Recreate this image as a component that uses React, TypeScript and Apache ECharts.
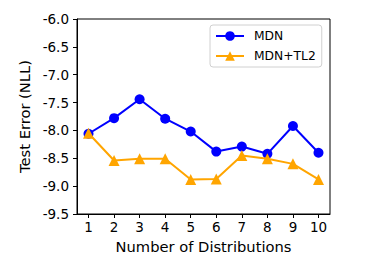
import React, { useEffect, useRef } from "react";
import * as echarts from "echarts";

const xValues = [1, 2, 3, 4, 5, 6, 7, 8, 9, 10];
const mdn = [-8.06, -7.78, -7.44, -7.79, -8.02, -8.38, -8.29, -8.42, -7.92, -8.4];
const mdnTl2 = [-8.05, -8.54, -8.51, -8.51, -8.88, -8.87, -8.45, -8.51, -8.6, -8.88];
const seriesNames = ["MDN", "MDN+TL2"];
const xTitle = "Number of Distributions";
const yTitle = "Test Error (NLL)";

const FONT = "DejaVu Sans";

export default function App() {
  const ref = useRef<HTMLDivElement>(null);
  useEffect(() => {
    if (!ref.current) return;
    const chart = echarts.init(ref.current, null, { renderer: "svg" });
    chart.setOption({
      animation: false,
      backgroundColor: "#fff",
      textStyle: { fontFamily: FONT },
      grid: {
        left: 77,
        right: 35,
        top: 19,
        bottom: 45,
        show: true,
        borderColor: "#000",
        borderWidth: 1,
        backgroundColor: "transparent",
      },
      legend: {
        orient: "vertical",
        left: 210,
        top: 25,
        padding: [5, 6, 5, 5],
        itemGap: 8,
        itemWidth: 28,
        itemHeight: 12,
        borderColor: "#d0d0d0",
        borderWidth: 1,
        borderRadius: 3,
        backgroundColor: "#fff",
        textStyle: { fontFamily: FONT, fontSize: 12.3, color: "#000", padding: [0, 0, 0, 5] },
        data: seriesNames,
      },
      xAxis: {
        type: "value",
        min: 0.55,
        max: 10.45,
        name: xTitle,
        nameLocation: "middle",
        nameGap: 23,
        nameTextStyle: { fontFamily: FONT, fontSize: 14.7, color: "#000" },
        axisLine: { show: true, lineStyle: { color: "#000", width: 1 } },
        axisTick: { show: true, length: 4, customValues: xValues, lineStyle: { color: "#000" } },
        axisLabel: {
          customValues: xValues,
          fontFamily: FONT,
          fontSize: 13.5,
          color: "#000",
          margin: 6,
        },
        splitLine: { show: false },
      },
      yAxis: {
        type: "value",
        min: -9.5,
        max: -6,
        interval: 0.5,
        name: yTitle,
        nameLocation: "middle",
        nameGap: 38,
        nameRotate: 90,
        nameTextStyle: { fontFamily: FONT, fontSize: 14.7, color: "#000" },
        axisLine: { show: true, lineStyle: { color: "#000", width: 1 } },
        axisTick: { show: true, length: 4, lineStyle: { color: "#000" } },
        axisLabel: {
          fontFamily: FONT,
          fontSize: 13.5,
          color: "#000",
          margin: 8,
          formatter: (v: number) => v.toFixed(1),
        },
        splitLine: { show: false },
      },
      series: [
        {
          name: seriesNames[0],
          type: "line",
          data: xValues.map((x, i) => [x, mdn[i]]),
          symbol: "circle",
          symbolSize: 10,
          color: "#0000ff",
          lineStyle: { color: "#0000ff", width: 2 },
          itemStyle: { color: "#0000ff" },
          z: 3,
        },
        {
          name: seriesNames[1],
          type: "line",
          data: xValues.map((x, i) => [x, mdnTl2[i]]),
          symbol: "triangle",
          symbolSize: 11,
          color: "#ffa500",
          lineStyle: { color: "#ffa500", width: 2 },
          itemStyle: { color: "#ffa500" },
          z: 4,
        },
      ],
    });
    return () => chart.dispose();
  }, []);
  return <div ref={ref} style={{ width: 365, height: 259, position: "absolute", left: 0, top: 0 }} />;
}
